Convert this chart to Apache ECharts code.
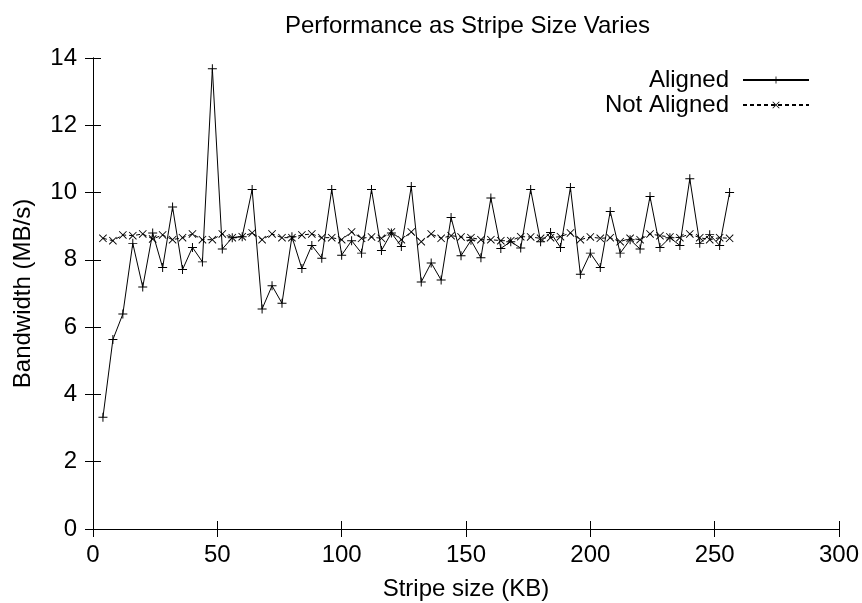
<!DOCTYPE html>
<html>
<head>
<meta charset="utf-8">
<script src="https://cdn.jsdelivr.net/npm/echarts@6/dist/echarts.min.js"></script>
<style>html,body{margin:0;padding:0;background:#fff;}#c{width:862px;height:603px;}</style>
</head>
<body>
<div id="c"></div>
<script>
const stripeSizes = [4,8,12,16,20,24,28,32,36,40,44,48,52,56,60,64,68,72,76,80,84,88,92,96,100,104,108,112,116,120,124,128,132,136,140,144,148,152,156,160,164,168,172,176,180,184,188,192,196,200,204,208,212,216,220,224,228,232,236,240,244,248,252,256];
const aligned = [3.32,5.63,6.39,8.49,7.19,8.80,7.77,9.57,7.71,8.37,7.94,13.68,8.32,8.66,8.69,10.09,6.54,7.23,6.71,8.69,7.74,8.43,8.05,10.09,8.14,8.57,8.20,10.09,8.28,8.80,8.40,10.18,7.34,7.91,7.40,9.26,8.12,8.58,8.06,9.84,8.34,8.54,8.35,10.09,8.54,8.81,8.37,10.15,7.57,8.20,7.77,9.44,8.20,8.60,8.32,9.88,8.37,8.66,8.43,10.41,8.49,8.75,8.43,10.00];
const notAligned = [8.64,8.57,8.74,8.72,8.77,8.62,8.74,8.60,8.66,8.77,8.60,8.60,8.77,8.66,8.69,8.80,8.60,8.77,8.66,8.66,8.74,8.77,8.66,8.66,8.60,8.83,8.64,8.68,8.64,8.83,8.60,8.83,8.54,8.77,8.64,8.72,8.68,8.66,8.60,8.60,8.57,8.57,8.69,8.68,8.64,8.66,8.69,8.80,8.60,8.68,8.64,8.66,8.54,8.64,8.60,8.77,8.72,8.68,8.66,8.77,8.66,8.60,8.66,8.64];
const seriesNames = ['Aligned','Not Aligned'];
const titleText = 'Performance as Stripe Size Varies';
const xName = 'Stripe size (KB)';
const yName = 'Bandwidth (MB/s)';

const FONT = 'Liberation Sans, Arial, Helvetica, sans-serif';
const plusPath = 'path://M0,4.45L10,4.45L10,5.55L0,5.55Z M4.45,0L5.55,0L5.55,10L4.45,10Z';
const crossPath = 'path://M0,0.8L0.8,0L10,9.2L9.2,10Z M9.2,0L10,0.8L0.8,10L0,9.2Z';

const axisLine = {show: true, lineStyle: {color: '#000', width: 1}};
const tick = {show: true, inside: true, length: 8, lineStyle: {color: '#000', width: 1}};

const chart = echarts.init(document.getElementById('c'), null, {renderer: 'canvas'});
chart.setOption({
  animation: false,
  backgroundColor: '#fff',
  title: {
    text: titleText, left: 280, top: 9,
    textStyle: {fontFamily: FONT, fontSize: 24, fontWeight: 'normal', color: '#000'}
  },
  legend: {
    data: seriesNames, orient: 'vertical', align: 'right', right: 47, top: 63,
    itemWidth: 66, itemHeight: 9, itemGap: 1,
    textStyle: {fontFamily: FONT, fontSize: 24, color: '#000', lineHeight: 24, padding: [0, 9, 0, 0]}
  },
  grid: {left: 93, right: 23, top: 58, bottom: 74, containLabel: false, outerBoundsMode: 'none'},
  xAxis: [{
    type: 'value', min: 0, max: 300, interval: 50, position: 'bottom',
    name: xName, nameLocation: 'middle', nameGap: 48,
    nameTextStyle: {fontFamily: FONT, fontSize: 24, color: '#000'},
    axisLine: axisLine, axisTick: tick, splitLine: {show: false},
    axisLabel: {fontFamily: FONT, fontSize: 24, color: '#000', margin: 14}
  }, {
    type: 'value', min: 0, max: 300, interval: 50, position: 'top',
    axisLine: axisLine, axisTick: tick, splitLine: {show: false}, axisLabel: {show: false}
  }],
  yAxis: [{
    type: 'value', min: 0, max: 14, interval: 2, position: 'left',
    name: yName, nameLocation: 'middle', nameGap: 58, nameRotate: 90,
    nameTextStyle: {fontFamily: FONT, fontSize: 24, color: '#000'},
    axisLine: axisLine, axisTick: tick, splitLine: {show: false},
    axisLabel: {fontFamily: FONT, fontSize: 24, color: '#000', margin: 16}
  }, {
    type: 'value', min: 0, max: 14, interval: 2, position: 'right',
    axisLine: axisLine, axisTick: tick, splitLine: {show: false}, axisLabel: {show: false}
  }],
  series: [{
    name: seriesNames[0], type: 'line',
    data: stripeSizes.map((x, i) => [x, aligned[i]]),
    symbol: plusPath, symbolSize: 9, showAllSymbol: true,
    lineStyle: {color: '#000', width: 1},
    itemStyle: {color: '#000'},
    z: 3
  }, {
    name: seriesNames[1], type: 'line',
    data: stripeSizes.map((x, i) => [x, notAligned[i]]),
    symbol: crossPath, symbolSize: 8, showAllSymbol: true,
    lineStyle: {color: '#000', width: 1, type: [4, 3]},
    itemStyle: {color: '#000'},
    z: 2
  }]
});
</script>
</body>
</html>
